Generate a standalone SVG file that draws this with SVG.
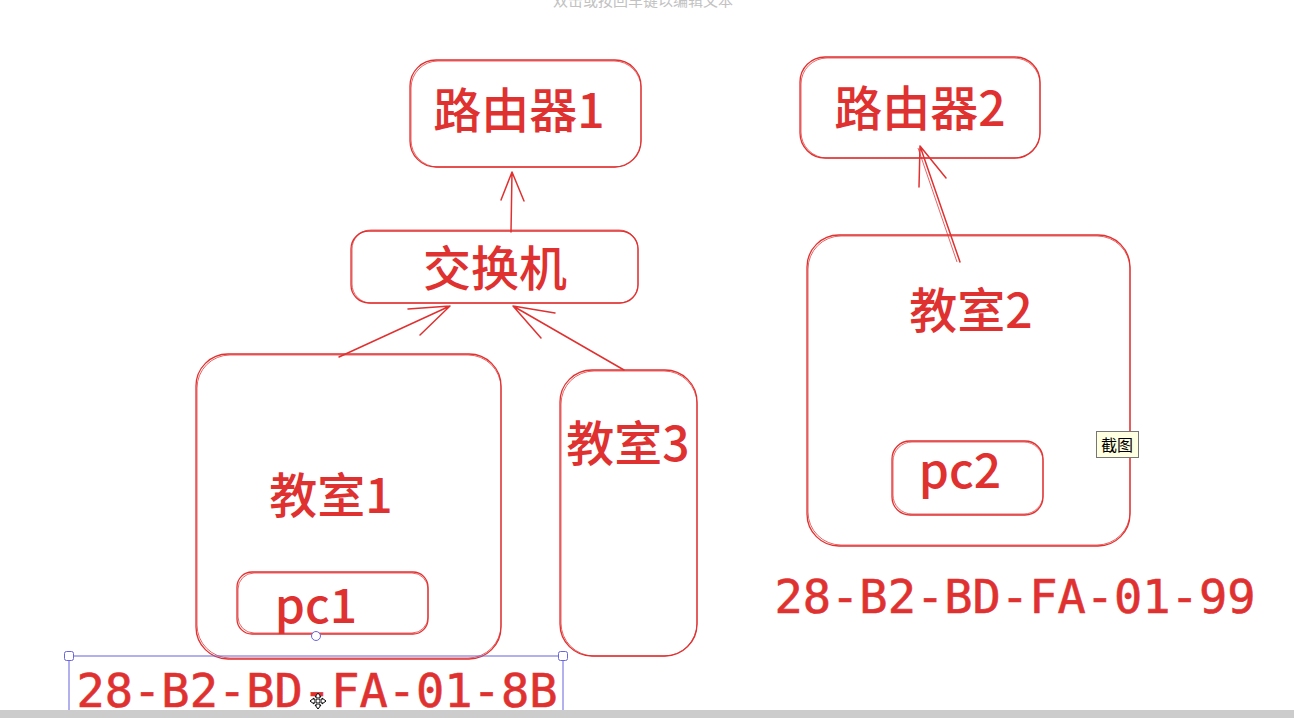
<svg xmlns="http://www.w3.org/2000/svg" width="1294" height="718" viewBox="0 0 1294 718">
<style>
.b{fill:none;stroke:#e03131;stroke-width:1.3;stroke-linecap:round;stroke-linejoin:round}
.b2{fill:none;stroke:#e03131;stroke-width:1;stroke-opacity:0.75}
.t{font-family:"Noto Sans CJK SC","Noto Sans",sans-serif;font-size:48px;font-weight:500;fill:#e03131;text-anchor:middle}
.m{font-family:"DejaVu Sans Mono","Liberation Mono",monospace;font-size:47px;fill:#e03131;stroke:#e03131;stroke-width:0.6;text-anchor:middle}
.a{fill:none;stroke:#e03131;stroke-width:1.5;stroke-linecap:round;stroke-linejoin:round}
.sel{fill:none;stroke:#6965db;stroke-width:1}
.h{fill:#fff;stroke:#6965db;stroke-width:1}
</style>
<rect width="1294" height="718" fill="#ffffff"/>
<text x="643" y="6" font-family="Noto Sans CJK SC,sans-serif" font-size="15" fill="#c2c2c2" text-anchor="middle">双击或按回车键以编辑文本</text>

<g id="router1">
<rect class="b" x="410" y="60" width="231" height="107" rx="26"/>
<rect class="b2" x="411" y="61" width="230" height="106" rx="27"/>
<text class="t" x="519" y="128">路由器1</text>
</g>
<g id="switch">
<rect class="b" x="351" y="231" width="287" height="72" rx="18"/>
<rect class="b2" x="352" y="230" width="286" height="73" rx="19"/>
<text class="t" x="495" y="286">交换机</text>
</g>
<g id="router2">
<rect class="b" x="800" y="57" width="240" height="101" rx="25"/>
<rect class="b2" x="801" y="58" width="239" height="100" rx="26"/>
<text class="t" x="920" y="126">路由器2</text>
</g>
<g id="room1">
<rect class="b" x="196" y="354" width="305" height="305" rx="32"/>
<rect class="b2" x="197" y="355" width="304" height="303" rx="33"/>
<text class="t" x="331" y="513">教室1</text>
</g>
<g id="pc1">
<rect class="b" x="237" y="572" width="191" height="62" rx="15"/>
<rect class="b2" x="238" y="573" width="190" height="60" rx="16"/>
<text class="t" x="316" y="623">pc1</text>
</g>
<g id="room3">
<rect class="b" x="560" y="370" width="137" height="286" rx="32"/>
<rect class="b2" x="561" y="371" width="136" height="285" rx="33"/>
<text class="t" x="628" y="461">教室3</text>
</g>
<g id="room2">
<rect class="b" x="807" y="235" width="323" height="311" rx="32"/>
<rect class="b2" x="808" y="236" width="322" height="309" rx="33"/>
<text class="t" x="971" y="328">教室2</text>
</g>
<g id="pc2">
<rect class="b" x="892" y="441" width="151" height="74" rx="18"/>
<rect class="b2" x="893" y="442" width="150" height="72" rx="19"/>
<text class="t" x="960" y="488">pc2</text>
</g>
<g id="mac2">
<text class="m" x="1015" y="613">28-B2-BD-FA-01-99</text>
</g>
<g id="mac1">
<text class="m" x="317" y="707">28-B2-BD-FA-01-8B</text>
</g>

<g id="connectors">
<path class="a" d="M511 232 L512 172 M501 200 L512 172 L524 201"/>
<path class="a" d="M339 357 L450 306 M408 309 L450 306 L420 335"/>
<path class="a" d="M624 370 L513 306 M555 313 L513 306 L541 338"/>
<path class="a" d="M960 262 L920 146 M919 187 L920 146 L946 178"/>
<path class="b2" d="M957 262 L918 148"/>
</g>

<g id="selection">
<rect class="sel" x="69" y="656" width="494" height="70"/>
<rect class="h" x="64.5" y="651.5" width="9" height="9" rx="2"/>
<rect class="h" x="558.5" y="651.5" width="9" height="9" rx="2"/>
<circle class="h" cx="316" cy="636" r="4.5"/>
<path d="M318 693 l3 4 h-2 v3 h3 v-2 l4 3 l-4 3 v-2 h-3 v3 h2 l-3 4 l-3 -4 h2 v-3 h-3 v2 l-4 -3 l4 -3 v2 h3 v-3 h-2 z" fill="#fff" stroke="#000" stroke-width="1"/>
</g>

<g id="tooltip">
<rect x="1096.5" y="431.5" width="42" height="26" fill="#ffffe1" stroke="#767676"/>
<text x="1117" y="451" font-family="Noto Sans CJK SC,sans-serif" font-size="16" fill="#000" text-anchor="middle">截图</text>
</g>

<rect x="0" y="710" width="1294" height="8" fill="#cccccc"/>
</svg>
